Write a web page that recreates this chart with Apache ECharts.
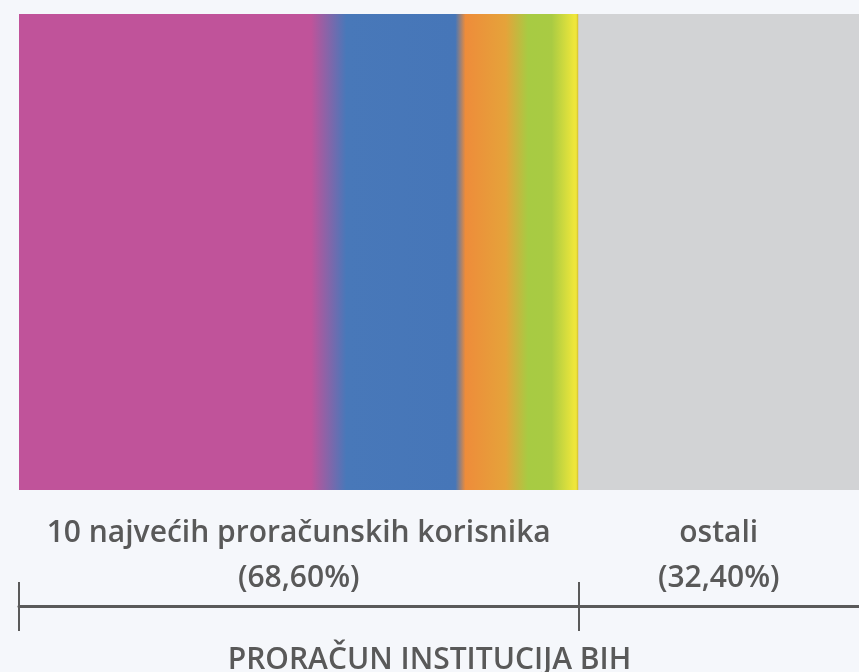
<!DOCTYPE html>
<html>
<head>
<meta charset="utf-8">
<script src="https://cdn.jsdelivr.net/npm/echarts@6/dist/echarts.min.js"></script>
<style>
  html, body { margin: 0; padding: 0; background: #f5f7fb; }
  #chart { width: 859px; height: 672px; }
</style>
</head>
<body>
<div id="chart"></div>
<script>
const categories = ['PRORAČUN INSTITUCIJA BIH'];
const segmentNames = ['10 najvećih proračunskih korisnika', 'ostali'];
const segmentValues = [68.6, 32.4];
const segmentLabels = ['(68,60%)', '(32,40%)'];
const axisMax = 103;

const textColor = '#595959';
const fontFamily = '"Open Sans", "Noto Sans", sans-serif';

const gradient = {
  type: 'linear', x: 0, y: 0, x2: 1, y2: 0,
  colorStops: [
    { offset: 0, color: '#c0539a' },
    { offset: 0.522, color: '#c0539a' },
    { offset: 0.585, color: '#4878b9' },
    { offset: 0.78, color: '#4676b8' },
    { offset: 0.798, color: '#ee8c3a' },
    { offset: 0.87, color: '#e5a33a' },
    { offset: 0.91, color: '#a7cb43' },
    { offset: 0.952, color: '#a9cb43' },
    { offset: 0.992, color: '#eee63a' },
    { offset: 0.996, color: '#eee63a' },
    { offset: 1, color: '#cdb52e' }
  ]
};
const segmentColors = [gradient, '#d2d3d5'];

// cumulative boundaries
const bounds = [0];
segmentValues.forEach((v, i) => bounds.push(bounds[i] + v));
const tickValues = bounds.slice(0, segmentValues.length);
const mids = segmentValues.map((v, i) => {
  const end = i === segmentValues.length - 1 ? axisMax : bounds[i + 1];
  return (bounds[i] + end) / 2;
});
const labelMap = {};
mids.forEach((m, i) => { labelMap[m] = segmentNames[i] + '\n' + segmentLabels[i]; });

const chart = echarts.init(document.getElementById('chart'), null, { renderer: 'canvas' });
chart.setOption({
  backgroundColor: '#f5f7fb',
  animation: false,
  title: {
    text: categories[0],
    left: 'center',
    top: 640,
    textStyle: { color: textColor, fontSize: 30, fontWeight: 600, fontFamily }
  },
  grid: {
    left: 19, right: 0, top: 14, bottom: 182,
    show: true, backgroundColor: '#d2d3d5', borderWidth: 0
  },
  xAxis: [
    {
      type: 'value', min: 0, max: axisMax, position: 'bottom', offset: 116,
      splitLine: { show: false },
      axisLine: { show: true, lineStyle: { color: '#5a5a5a', width: 3 } },
      axisTick: { show: true, customValues: tickValues, length: 25, inside: false,
                  lineStyle: { color: '#5a5a5a', width: 2 } },
      axisLabel: { show: false }
    },
    {
      type: 'value', min: 0, max: axisMax, position: 'bottom', offset: 116,
      splitLine: { show: false },
      axisLine: { show: false },
      axisTick: { show: true, customValues: tickValues, length: 24, inside: true,
                  lineStyle: { color: '#5a5a5a', width: 2 } },
      axisLabel: {
        show: true, inside: true, customValues: mids, margin: 5,
        formatter: (v) => labelMap[v] || '',
        color: textColor, fontSize: 30, fontWeight: 600, fontFamily,
        lineHeight: 45, align: 'center'
      }
    }
  ],
  yAxis: {
    type: 'category', data: categories, show: false
  },
  series: segmentValues.map((v, i) => ({
    type: 'bar',
    name: segmentNames[i],
    stack: 'total',
    xAxisIndex: 0,
    barWidth: '100%',
    data: [v],
    itemStyle: { color: segmentColors[i] }
  }))
});
</script>
</body>
</html>
